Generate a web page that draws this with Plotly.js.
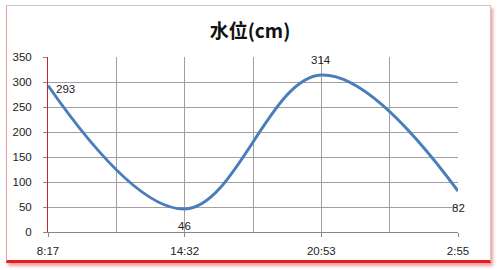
<!DOCTYPE html>
<html><head><meta charset="utf-8">
<script src="https://cdn.plot.ly/plotly-3.0.1.min.js"></script>
<style>
html,body{margin:0;padding:0;background:#fff;}
#wrap{position:relative;width:500px;height:270px;}
#chart{position:absolute;left:0;top:0;width:500px;height:270px;}
#frame{position:absolute;left:6px;top:5px;width:483px;height:254px;border:1px solid #c8c8c8;border-left-color:#e7a0a0;border-bottom:3px solid #e02020;box-shadow:2px 3px 3px rgba(230,40,40,0.45);pointer-events:none;}
</style></head>
<body><div id="wrap"><div id="chart"></div><div id="frame"></div></div>
<script>
const categories = ['8:17','14:32','20:53','2:55'];
const values = [293, 46, 314, 82];
const labelShift = [[17,-3],[0,-17],[0,15],[0,-17]];
const xpos = categories.map((c,i)=>i*2);

const annotations = values.map((v,i)=>({
  x: xpos[i], y: v, xref:'x', yref:'y', text:String(v), showarrow:false,
  xshift: labelShift[i][0], yshift: labelShift[i][1],
  font:{family:'Liberation Sans, Arial', size:11.5, color:'#222'}
}));

Plotly.newPlot('chart', [{
  x: xpos, y: values, type:'scatter', mode:'lines',
  line:{shape:'spline', smoothing:1.1, color:'#4a7ebb', width:3},
  hoverinfo:'none'
}], {
  width:500, height:270,
  margin:{l:48, r:42, t:57, b:38},
  paper_bgcolor:'rgba(0,0,0,0)', plot_bgcolor:'rgba(0,0,0,0)',
  showlegend:false,
  annotations: annotations,
  title:{text:'<b>水位(cm)</b>', x:0.5, xanchor:'center', y:0.885, yanchor:'middle',
    font:{family:'Noto Sans CJK SC', size:19, color:'#111'}},
  xaxis:{range:[0,6], tickmode:'array', tickvals:xpos, ticktext:categories,
    showgrid:true, gridcolor:'#a0a0a0', gridwidth:1,
    minor:{tickmode:'linear', tick0:0, dtick:1, showgrid:true, gridcolor:'#a0a0a0', gridwidth:1},
    ticks:'outside', ticklen:4, tickcolor:'#888', ticklabelstandoff:4,
    showline:true, linecolor:'#888', linewidth:1, zeroline:false,
    tickfont:{family:'Liberation Sans, Arial', size:11.5, color:'#222'}, fixedrange:true},
  yaxis:{range:[0,350], tickmode:'linear', tick0:0, dtick:50,
    showgrid:true, gridcolor:'#a0a0a0', gridwidth:1,
    ticks:'outside', ticklen:4, tickcolor:'#888', ticklabelstandoff:9,
    showline:true, linecolor:'#cc2222', linewidth:1, zeroline:false,
    tickfont:{family:'Liberation Sans, Arial', size:11.5, color:'#222'}, fixedrange:true}
}, {staticPlot:true, displayModeBar:false});
</script></body></html>
